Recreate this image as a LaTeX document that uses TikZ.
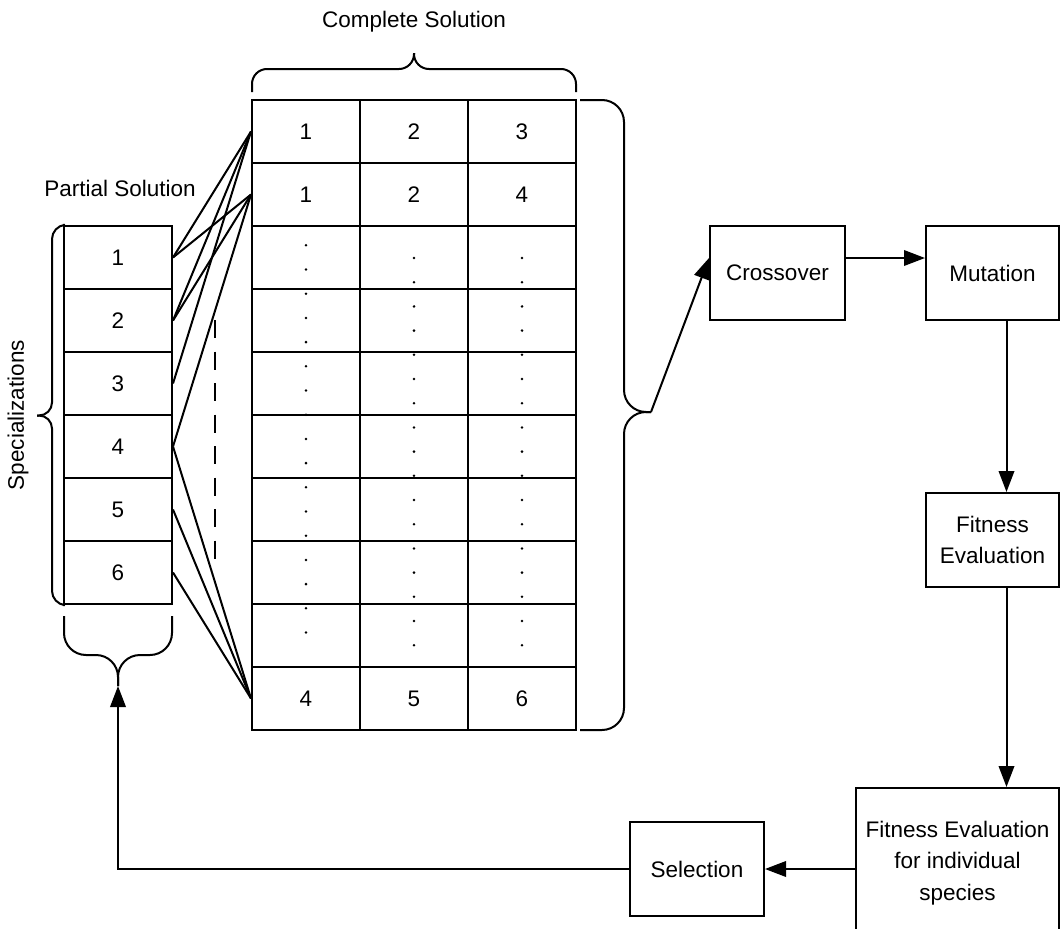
\documentclass[tikz,border=0pt]{standalone}
\usepackage{fontspec}
\setmainfont{Liberation Sans}
\usetikzlibrary{arrows.meta}
\begin{document}
\begin{tikzpicture}[x=1pt,y=-1pt,line width=2pt,
  every node/.style={font=\fontsize{22.5}{31.5}\selectfont},
  cell/.style={draw, minimum width=108pt, minimum height=63pt, inner sep=0pt},
  box/.style={draw, minimum height=94pt, inner sep=0pt, align=center},
  arr/.style={-{Triangle[length=21pt,width=15.5pt]}}]

\clip (0,0) rectangle (1061,929);

% partial solution column
\foreach \i in {1,...,6}
  \node[cell] (p\i) at (118,194.5+63*\i) {\i};

% complete solution table
\foreach \c/\a/\b/\z in {1/1/1/4, 2/2/2/5, 3/3/4/6} {
  \node[cell] (c1-\c)  at (198+108*\c,131.5) {\a};
  \node[cell] (c2-\c)  at (198+108*\c,194.5) {\b};
  \node[cell] (c10-\c) at (198+108*\c,698.5) {\z};
}
\foreach \r in {3,...,9}
  \foreach \c in {1,2,3}
    \node[cell] (c\r-\c) at (198+108*\c,68.5+63*\r) {};

% elided rows
\foreach \k in {0,...,16} {
  \fill (306,245.3+24.2*\k) circle[radius=1.4pt];
  \fill (414,258+24.2*\k) circle[radius=1.4pt];
  \fill (522,258+24.2*\k) circle[radius=1.4pt];
}

% specializations linked into complete solutions
\foreach \s/\t in {1/1,1/2,2/1,2/2,3/1,4/2,4/10,5/10,6/10}
  \draw (p\s.east) -- (c\t-1.west);
\draw[dash pattern=on 18pt off 13.5pt] (215,320) -- (215,565);

% braces
\draw[rounded corners=13pt] (p1.north west) -- (52,226) -- (52,415.5) -- (37,415.5);
\draw[rounded corners=13pt] (37,415.5) -- (52,415.5) -- (52,604) -- (p6.south west);

\draw[rounded corners=15pt] (252,92) -- (252,69) -- (414,69) -- (414,53);
\draw[rounded corners=15pt] (414,53) -- (414,69) -- (576,69) -- (576,92);

\coordinate (rtip) at (651,412);
\draw[rounded corners=22pt] (580,100) -- (624,100) -- (624,412) -- (rtip);
\draw[rounded corners=22pt] (rtip) -- (624,412) -- (624,730) -- (580,730);

\coordinate (btip) at (118,686);
\draw[rounded corners=22pt] (64,616) -- (64,655) -- (118,655) -- (btip);
\draw[rounded corners=22pt] (btip) -- (118,655) -- (172,655) -- (172,616);

% labels
\node (complbl) at (414,22) {Complete Solution};
\node (partlbl) at (120,188) {Partial Solution};
\node[rotate=90] (speclbl) at (18,415) {Specializations};

% evolutionary loop
\node[box, minimum width=135pt] (cross) at (777.5,273) {Crossover};
\node[box, minimum width=133pt] (mut) at (992.5,273) {Mutation};
\node[box, minimum width=133pt] (fit) at (992.5,540) {Fitness\\Evaluation};
\node[box, minimum width=203pt, minimum height=150pt, anchor=north] (ind) at (957.5,787)
  {Fitness Evaluation\\for individual\\species};
\node[box, minimum width=134pt] (sel) at (697,869) {Selection};

\draw[arr] (rtip) -- ([yshift=15pt]cross.west);
\draw[arr] ([yshift=15pt]cross.east) -- ([yshift=15pt]mut.west);
\draw[arr] ([xshift=14pt]mut.south) -- ([xshift=14pt]fit.north);
\draw[arr] ([xshift=14pt]fit.south) -- ([xshift=14pt]fit.south |- ind.north);
\draw[arr] (sel.east -| ind.west) -- (sel.east);
\draw[arr] (sel.west) -| (btip);
\end{tikzpicture}
\end{document}
